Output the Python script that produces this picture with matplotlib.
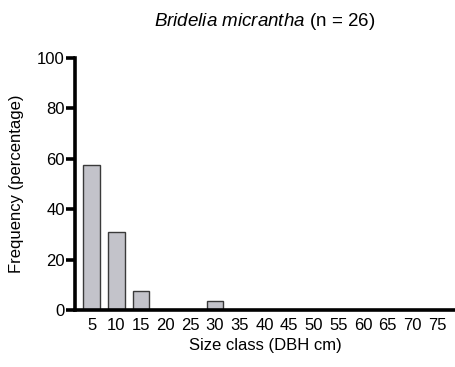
import matplotlib.pyplot as plt

plt.rcParams['font.family'] = ['Liberation Sans', 'DejaVu Sans']
plt.rcParams['mathtext.fontset'] = 'custom'
plt.rcParams['mathtext.rm'] = 'Liberation Sans'
plt.rcParams['mathtext.it'] = 'Liberation Sans:italic'

size_class = ['5', '10', '15', '20', '25', '30', '35', '40', '45', '50',
              '55', '60', '65', '70', '75']
frequency = [57.7, 30.8, 7.7, 0, 0, 3.8, 0, 0, 0, 0, 0, 0, 0, 0, 0]

fig = plt.figure(figsize=(4.55, 3.67), dpi=100)
ax = fig.add_axes([0.165, 0.155, 0.835, 0.687])

x = list(range(len(size_class)))
ax.bar(x, frequency, width=0.68, color='#c3c3ca', edgecolor='#3a3a3a',
       linewidth=1.0, zorder=2)

ax.set_xlim(-0.67, 14.72)
ax.set_ylim(0, 100)
ax.set_yticks([0, 20, 40, 60, 80, 100])
ax.set_xticks(x)
ax.set_xticklabels(size_class)

for s in ['top', 'right']:
    ax.spines[s].set_visible(False)
for s in ['left', 'bottom']:
    ax.spines[s].set_linewidth(2.6)
    ax.spines[s].set_zorder(3)

ax.tick_params(axis='y', length=6.5, width=2.6, labelsize=12, pad=1)
ax.tick_params(axis='x', length=0, labelsize=12, pad=6)

ax.set_xlabel('Size class (DBH cm)', fontsize=12, labelpad=3)
ax.set_ylabel('Frequency (percentage)', fontsize=12, labelpad=9)
ax.set_title(r'$\it{Bridelia\ micrantha}$ (n = 26)', fontsize=13.5, pad=23)

plt.savefig('out.png', dpi=100)
